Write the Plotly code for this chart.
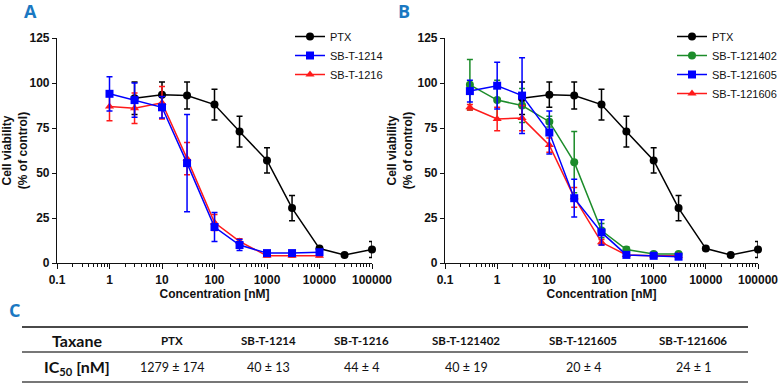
import plotly.graph_objects as go

# ---------------- data ----------------
conc_ptx = [3, 10, 30, 100, 300, 1000, 3000, 10000, 30000, 100000]
ptx_mean = [91.5, 93.5, 93, 88, 73, 57, 30.5, 8, 4.5, 7.5]
ptx_err = [9, 7, 7.5, 8.5, 8.5, 7, 7, 1, 0.5, 4.5]

conc_a = [1, 3, 10, 30, 100, 300, 1000, 3000, 10000]
sb1214_mean = [94, 90.5, 86.5, 55.5, 20, 10, 5.5, 5.5, 6]
sb1214_err = [9.5, 9.5, 6, 27, 8, 3, 1, 1, 1]
sb1216_mean = [87, 86, 89, 58, 22.5, 12, 4, 4, 4]
sb1216_err = [8, 8.5, 9, 9, 4.5, 1.5, 0.5, 0.5, 0.5]

conc_b = [0.3, 1, 3, 10, 30, 100, 300, 1000, 3000]
sb121402_mean = [99, 90.5, 87.5, 78.5, 56, 18, 7.5, 5, 5]
sb121402_err = [14, 11, 9.5, 3, 17, 4, 1.5, 0.5, 0.5]
sb121605_mean = [95.5, 98.5, 93, 72.5, 36, 17, 4.5, 4, 3.5]
sb121605_err = [6, 13, 21, 12, 10.5, 7, 1, 0.5, 0.5]
sb121606_mean = [86.5, 80, 80.5, 65.5, 36.5, 11.5, 4.5, 4, 4]
sb121606_err = [1.5, 6.5, 7, 4, 5.5, 1.5, 0.5, 0.5, 0.5]

x_tickvals = [0.1, 1, 10, 100, 1000, 10000, 100000]
x_ticktext = ["0.1", "1", "10", "100", "1000", "10000", "100000"]
y_tickvals = [0, 25, 50, 75, 100, 125]

table_header = ["Taxane", "PTX", "SB-T-1214", "SB-T-1216", "SB-T-121402", "SB-T-121605", "SB-T-121606"]
table_values = ["IC<sub>50</sub> [nM]", "1279 ± 174", "40 ± 13", "44 ± 4", "40 ± 19", "20 ± 4", "24 ± 1"]

# ---------------- styling ----------------
W, H = 782, 386
BLACK, BLUE, RED, GREEN = "#000000", "#0000ff", "#ff1a1a", "#1c8c2a"
LETTER = "#1a78c2"
AX_FONT = dict(family="Liberation Sans, Arial, sans-serif", size=12, color="#111", weight=700)

fig = go.Figure()


def add_series(x, y, err, color, symbol, size, name, xa, ya, legend, rank):
    fig.add_trace(go.Scatter(
        x=x, y=y, name=name, mode="lines+markers",
        xaxis=xa, yaxis=ya, legend=legend, legendrank=rank,
        line=dict(color=color, width=1.5),
        marker=dict(color=color, symbol=symbol, size=size),
        error_y=dict(type="data", array=err, visible=True, color=color, thickness=1.5, width=3),
        cliponaxis=False,
    ))


# panel A
add_series(conc_ptx, ptx_mean, ptx_err, BLACK, "circle", 8, "PTX", "x", "y", "legend", 1)
add_series(conc_a, sb1216_mean, sb1216_err, RED, "triangle-up", 8, "SB-T-1216", "x", "y", "legend", 3)
add_series(conc_a, sb1214_mean, sb1214_err, BLUE, "square", 8, "SB-T-1214", "x", "y", "legend", 2)
# panel B
add_series(conc_ptx, ptx_mean, ptx_err, BLACK, "circle", 8, "PTX", "x2", "y2", "legend2", 1)
add_series(conc_b, sb121402_mean, sb121402_err, GREEN, "circle", 8, "SB-T-121402", "x2", "y2", "legend2", 2)
add_series(conc_b, sb121606_mean, sb121606_err, RED, "triangle-up", 8, "SB-T-121606", "x2", "y2", "legend2", 4)
add_series(conc_b, sb121605_mean, sb121605_err, BLUE, "square", 8, "SB-T-121605", "x2", "y2", "legend2", 3)

ydom = [1 - 263 / H, 1 - 38 / H]
minor_vals = [m * 10 ** k for k in range(-1, 5) for m in range(2, 10)]

xaxis_common = dict(
    type="log", range=[-1, 5], tickvals=x_tickvals, ticktext=x_ticktext, automargin=False,
    showline=True, linecolor="#111", linewidth=1.2, ticks="outside", ticklen=5, tickwidth=1.2,
    tickcolor="#111", showgrid=False, zeroline=False, tickfont=AX_FONT,
    minor=dict(tickvals=minor_vals, ticks="outside", ticklen=3, tickwidth=1, tickcolor="#111", showgrid=False),
    title=dict(text="Concentration [nM]", font=AX_FONT, standoff=4),
)
yaxis_common = dict(
    range=[0, 125], tickvals=y_tickvals, showline=True, linecolor="#111", linewidth=1.2,
    ticks="outside", ticklen=4, tickwidth=1.2, tickcolor="#111", showgrid=False, zeroline=False,
    tickfont=AX_FONT, domain=ydom, automargin=False,
    title=dict(text="Cell viability<br>(% of control)", font=AX_FONT, standoff=2),
)

LEG_FONT = dict(family="Liberation Sans, Arial, sans-serif", size=11, color="#111")
fig.update_layout(
    width=W, height=H, margin=dict(l=0, r=0, t=0, b=0, autoexpand=False),
    paper_bgcolor="white", plot_bgcolor="white",
    xaxis=dict(domain=[57 / W, 372 / W], anchor="y", **xaxis_common),
    yaxis=dict(anchor="x", **yaxis_common),
    xaxis2=dict(domain=[445 / W, 758 / W], anchor="y2", **xaxis_common),
    yaxis2=dict(anchor="x2", **yaxis_common),
    legend=dict(x=290 / W, y=1 - 22 / H, xanchor="left", yanchor="top", bgcolor="rgba(0,0,0,0)",
                font=LEG_FONT, traceorder="normal", itemwidth=30, tracegroupgap=0),
    legend2=dict(x=672 / W, y=1 - 22 / H, xanchor="left", yanchor="top", bgcolor="rgba(0,0,0,0)",
                 font=LEG_FONT, traceorder="normal", itemwidth=30, tracegroupgap=0),
    showlegend=True,
)

# panel letters
for txt, px, py in [("A", 30, 11), ("B", 404, 11), ("C", 14, 310)]:
    fig.add_annotation(text=txt, x=px / W, y=1 - py / H, xref="paper", yref="paper",
                       showarrow=False, xanchor="center", yanchor="middle",
                       font=dict(family="Open Sans, sans-serif", size=18, color=LETTER, weight=700))

# table lines
for py, lw in [(327, 1.8), (352, 1.5), (382, 1.5)]:
    fig.add_shape(type="line", xref="paper", yref="paper", x0=22 / W, x1=748 / W,
                  y0=1 - py / H, y1=1 - py / H, line=dict(color="#4a4a4a", width=lw))

col_x = [77, 172, 268, 361, 466, 583, 693]
TFONT = "Lato, Open Sans, sans-serif"
for i, (hdr, val) in enumerate(zip(table_header, table_values)):
    big = i == 0
    fig.add_annotation(text=hdr, x=col_x[i] / W, y=1 - 340 / H, xref="paper", yref="paper",
                       showarrow=False, xanchor="center", yanchor="middle",
                       font=dict(family=TFONT, size=16 if big else 11.5, color="#111", weight=700))
    fig.add_annotation(text=val, x=col_x[i] / W, y=1 - 367 / H, xref="paper", yref="paper",
                       showarrow=False, xanchor="center", yanchor="middle",
                       font=dict(family=TFONT, size=16 if big else 12.5, color="#111",
                                 weight=700 if big else 400))

fig.write_html("out.html", config={"displayModeBar": False},
               post_script="document.body.style.margin='0';document.body.style.overflow='hidden';")
